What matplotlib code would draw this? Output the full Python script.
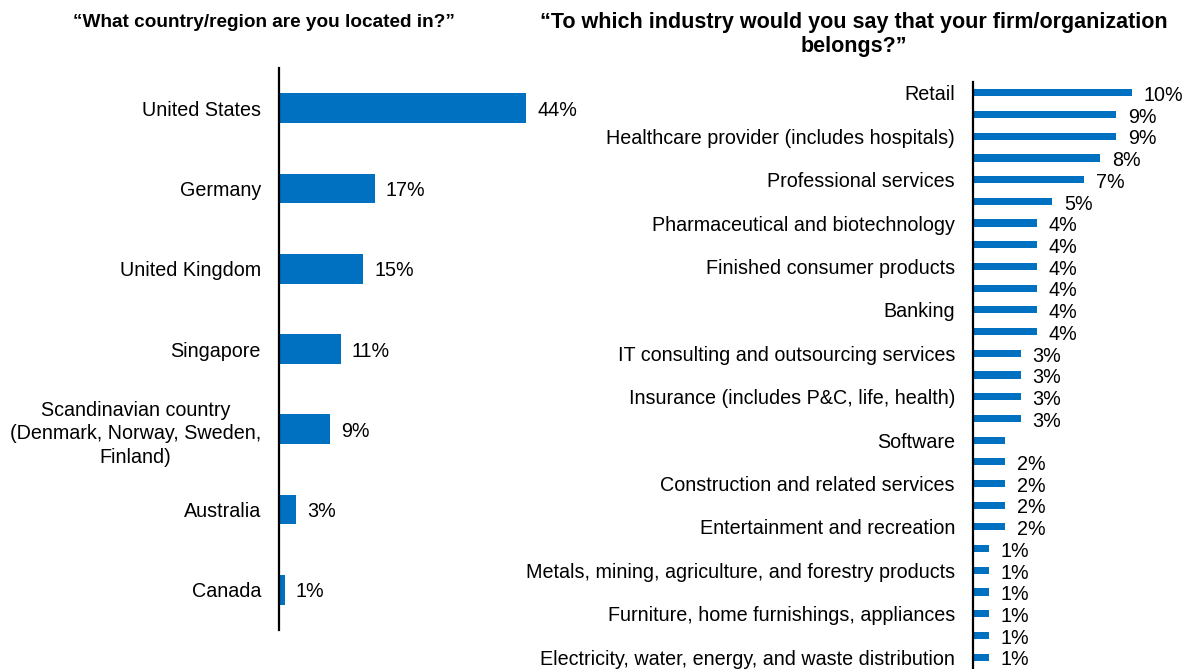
import numpy as np
import matplotlib.pyplot as plt

plt.rcParams['font.family'] = ['Liberation Sans', 'DejaVu Sans']

BLUE = '#0070C0'

# Country / region question
countries = ['United States', 'Germany', 'United Kingdom', 'Singapore',
             'Scandinavian country\n(Denmark, Norway, Sweden,\nFinland)',
             'Australia', 'Canada']
country_pct = [44, 17, 15, 11, 9, 3, 1]

# Industry question (only every other category is labelled on the axis)
industries = ['Retail', '', 'Healthcare provider (includes hospitals)', '',
              'Professional services', '', 'Pharmaceutical and biotechnology', '',
              'Finished consumer products', '', 'Banking', '',
              'IT consulting and outsourcing services', '',
              'Insurance (includes P&C, life, health)', '', 'Software', '',
              'Construction and related services', '', 'Entertainment and recreation', '',
              'Metals, mining, agriculture, and forestry products', '',
              'Furniture, home furnishings, appliances', '',
              'Electricity, water, energy, and waste distribution']
industry_pct = [10, 9, 9, 8, 7, 5, 4, 4, 4, 4, 4, 4, 3, 3, 3, 3, 2,
                2, 2, 2, 2, 1, 1, 1, 1, 1, 1]
industry_shown = [True] * 16 + [False] + [True] * 10

fig = plt.figure(figsize=(11.9, 6.69), dpi=100)
FS = 14.2


def style(ax):
    for s in ['top', 'right', 'bottom']:
        ax.spines[s].set_visible(False)
    ax.spines['left'].set_linewidth(1.6)
    ax.spines['left'].set_color('black')
    ax.set_xticks([])
    ax.tick_params(axis='y', length=0, pad=13, labelsize=FS)


# left panel
ax1 = fig.add_axes([0.2345, 0.0583, 0.236, 0.840])
y1 = np.arange(len(countries))
ax1.barh(y1, country_pct, height=0.37, color=BLUE)
ax1.set_ylim(len(countries) - 0.5, -0.5)
ax1.set_xlim(0, 50)
ax1.set_yticks(y1)
ax1.set_yticklabels(countries)
style(ax1)
for t in ax1.get_yticklabels():
    t.set_multialignment('center')
    t.set_linespacing(1.3)
for yy, v in zip(y1, country_pct):
    ax1.annotate(f'{v}%', (v, yy), xytext=(8, -1.5), textcoords='offset points',
                 va='center', ha='left', fontsize=FS)

# right panel
ax2 = fig.add_axes([0.8176, 0.0015, 0.147, 0.876])
y2 = np.arange(len(industries))
ax2.barh(y2, industry_pct, height=0.33, color=BLUE)
ax2.set_ylim(len(industries) - 0.5, -0.5)
ax2.set_xlim(0, 11)
ax2.set_yticks(y2)
ax2.set_yticklabels(industries)
style(ax2)
for yy, v, show in zip(y2, industry_pct, industry_shown):
    if show:
        ax2.annotate(f'{v}%', (v, yy), xytext=(8.5, -2), textcoords='offset points',
                     va='center', ha='left', fontsize=FS)

fig.text(0.2214, 0.967, '\u201cWhat country/region are you located in?\u201d',
         ha='center', va='center', fontsize=13.7, fontweight='bold')
fig.text(0.7177, 0.949, '\u201cTo which industry would you say that your firm/organization\nbelongs?\u201d',
         ha='center', va='center', fontsize=15.5, fontweight='bold', linespacing=1.2)

fig.savefig('out.png', dpi=100)
